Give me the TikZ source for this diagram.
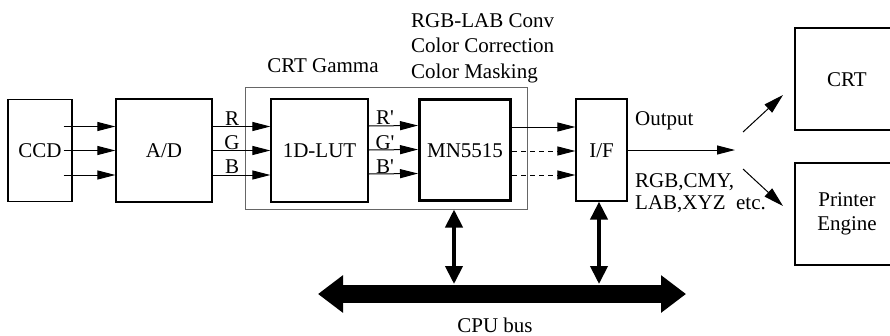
\documentclass[tikz,border=0pt]{standalone}
\usepackage{fontspec}
\setmainfont{Liberation Serif}
\usetikzlibrary{arrows.meta}
\tikzset{
 base/.style={font=\fontsize{21}{24}\selectfont},
 box/.style={draw, line width=1.2pt, inner sep=0pt, base, text height=14pt, text depth=0pt},
 lbl/.style={inner sep=0pt, base, text height=14pt, text depth=0pt},
 arr/.style={line width=1pt, -{Triangle[length=18pt,width=9pt]}},
 darr/.style={arr, dash pattern=on 5pt off 4pt},
 diag/.style={line width=1pt, -{Triangle[length=20pt,width=11pt]}},
 dbl/.style={line width=4pt, {Triangle[length=18pt,width=17pt]}-{Triangle[length=18pt,width=17pt]}},
 busarr/.style={line width=18pt, {Triangle[length=25pt,width=36pt]}-{Triangle[length=25pt,width=36pt]}},
}
\begin{document}
\begin{tikzpicture}[x=1pt,y=-1pt]
\useasboundingbox (0,0) rectangle (890,335);
\clip (0,0) rectangle (890,335);
\fill[white] (0,0) rectangle (890,335);

% group box
\node[draw=black!60, line width=1pt, minimum width=282pt, minimum height=122pt, inner sep=0pt] (gamma) at (386,148) {};
\node[lbl] (gammalbl) at (323,65) {CRT Gamma};

% boxes
\node[box, minimum width=64pt, minimum height=102pt] (ccd) at (40,150.5) {CCD};
\node[box, minimum width=96pt, minimum height=103pt] (ad) at (164,150.5) {A/D};
\node[box, minimum width=97pt, minimum height=103pt] (lut) at (319.5,150.5) {1D-LUT};
\node[box, line width=3pt, minimum width=91pt, minimum height=101pt] (mn) at (465,150) {MN5515};
\node[box, minimum width=51pt, minimum height=102pt] (if) at (601.5,150) {I/F};
\node[box, minimum width=104pt, minimum height=102pt] (crt) at (847,79) {CRT};
\node[draw, line width=1.2pt, inner sep=0pt, base, align=center, minimum width=104pt, minimum height=102pt] (prn) at (847,214) {Printer\\Engine};

% CCD -> A/D
\draw[arr] ([xshift=-9pt,yshift=24pt]ccd.east) -- ([yshift=24pt]ad.west);
\draw[arr] ([xshift=-9pt]ccd.east) -- (ad.west);
\draw[arr] ([xshift=-9pt,yshift=-24.5pt]ccd.east) -- ([yshift=-24.5pt]ad.west);

% A/D -> LUT
\draw[arr] ([yshift=24pt]ad.east) -- ([yshift=24pt]lut.west);
\draw[arr] (ad.east) -- (lut.west);
\draw[arr] ([yshift=-24.5pt]ad.east) -- ([yshift=-24.5pt]lut.west);
\node[lbl] (lR) at (232,118) {R};
\node[lbl] (lG) at (232,142) {G};
\node[lbl] (lB) at (232,166) {B};

% LUT -> MN
\draw[arr] ([yshift=24.5pt]lut.east) -- ([yshift=24.5pt]mn.west);
\draw[arr] ([yshift=0.5pt]lut.east) -- ([yshift=0.5pt]mn.west);
\draw[arr] ([yshift=-23.5pt]lut.east) -- ([yshift=-23.5pt]mn.west);
\node[lbl] (lR2) at (385,117) {R\textquotesingle};
\node[lbl] (lG2) at (385,142) {G\textquotesingle};
\node[lbl] (lB2) at (385,166) {B\textquotesingle};

\node[lbl, anchor=west] (t1) at (411,20) {RGB-LAB Conv};
\node[lbl, anchor=west] (t2) at (411,45.5) {Color Correction};
\node[lbl, anchor=west] (t3) at (411,71) {Color Masking};

% MN -> I/F
\draw[arr] ([yshift=23pt]mn.east) -- ([yshift=23pt]if.west);
\draw[darr] ([yshift=-1pt]mn.east) -- ([yshift=-1pt]if.west);
\draw[darr] ([yshift=-25pt]mn.east) -- ([yshift=-25pt]if.west);

% output
\coordinate (outE) at (735,150);
\draw[arr] (if.east) -- (outE);
\node[lbl, anchor=west] (outlbl) at (635,118) {Output};
\node[lbl, anchor=west] (fmt1) at (635,180) {RGB,CMY,};
\node[lbl, anchor=west] (fmt2) at (635,202) {LAB,XYZ\ \ etc.};
\coordinate (upS) at (743,132);
\coordinate (upE) at (783,95);
\coordinate (dnS) at (743,169);
\coordinate (dnE) at (783,206);
\draw[diag] (upS) -- (upE);
\draw[diag] (dnS) -- (dnE);

% CPU bus
\coordinate (busL) at (318,294);
\coordinate (busR) at (686,294);
\coordinate (busTop) at (500,284);
\draw[busarr] (busL) -- (busR);
\node[lbl] (buslbl) at (495,325) {CPU bus};

\coordinate (mnbus) at ([xshift=-11pt]mn.south);
\coordinate (ifbus) at ([xshift=-2.5pt]if.south);
\draw[dbl] (mnbus |- gamma.south) -- (mnbus |- busTop);
\draw[dbl] (ifbus |- if.south) -- (ifbus |- busTop);
\end{tikzpicture}
\end{document}
